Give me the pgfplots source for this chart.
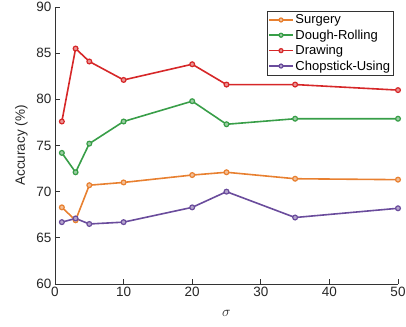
\documentclass[border=0pt]{standalone}
\usepackage{pgfplots}
\pgfplotsset{compat=1.18}
\usepackage{fontspec}
\setmainfont{Liberation Sans}
\definecolor{cOr}{RGB}{232,128,48}
\definecolor{cGr}{RGB}{56,158,72}
\definecolor{cRd}{RGB}{214,39,40}
\definecolor{cPu}{RGB}{106,76,156}
\begin{document}
\begin{tikzpicture}
\useasboundingbox (-55pt,-42pt) rectangle (351pt,284pt);
\begin{axis}[
  scale only axis, width=343pt, height=277pt,
  xmin=0, xmax=50, ymin=60, ymax=90,
  xtick={0,10,...,50}, ytick={60,65,...,90},
  axis x line*=bottom, axis y line*=left,
  axis line style={black!80, line width=0.8pt},
  tick style={black!80, line width=0.8pt},
  tick align=inside, major tick length=5pt,
  /pgf/number format/assume math mode=true,
  tick label style={font=\fontsize{13.5}{15}\selectfont, text=black!85},
  label style={font=\fontsize{13.5}{15}\selectfont, text=black!85},
  xlabel={$\sigma$}, ylabel={Accuracy (\%)},
  xlabel style={yshift=-6pt}, ylabel style={yshift=2pt},
  legend style={at={(0.988,0.986)}, anchor=north east, font=\fontsize{13}{15}\selectfont,
    draw=black!80, line width=0.6pt, inner sep=1.5pt, row sep=0.5pt, cells={anchor=west}},
  legend image code/.code={\draw[#1, mark=none, line width=1.5pt] (0cm,0cm) -- (0.82cm,0cm); \draw[#1, mark size=2pt, only marks] plot coordinates {(0.41cm,0cm)};},
  every axis plot/.append style={line width=1.6pt, mark=*, mark size=2.4pt},
]
\addplot[cOr, mark options={fill=cOr!50!white, line width=1.2pt}] coordinates {(1,68.3) (3,66.9) (5,70.7) (10,71.0) (20,71.8) (25,72.1) (35,71.4) (50,71.3)};
\addlegendentry{Surgery}
\addplot[cGr, mark options={fill=cGr!50!white, line width=1.2pt}] coordinates {(1,74.2) (3,72.1) (5,75.2) (10,77.6) (20,79.8) (25,77.3) (35,77.9) (50,77.9)};
\addlegendentry{Dough-Rolling}
\addplot[cRd, mark options={fill=cRd!50!white, line width=1.2pt}] coordinates {(1,77.6) (3,85.5) (5,84.1) (10,82.1) (20,83.8) (25,81.6) (35,81.6) (50,81.0)};
\addlegendentry{Drawing}
\addplot[cPu, mark options={fill=cPu!50!white, line width=1.2pt}] coordinates {(1,66.7) (3,67.1) (5,66.5) (10,66.7) (20,68.3) (25,70.0) (35,67.2) (50,68.2)};
\addlegendentry{Chopstick-Using}
\end{axis}
\end{tikzpicture}
\end{document}
